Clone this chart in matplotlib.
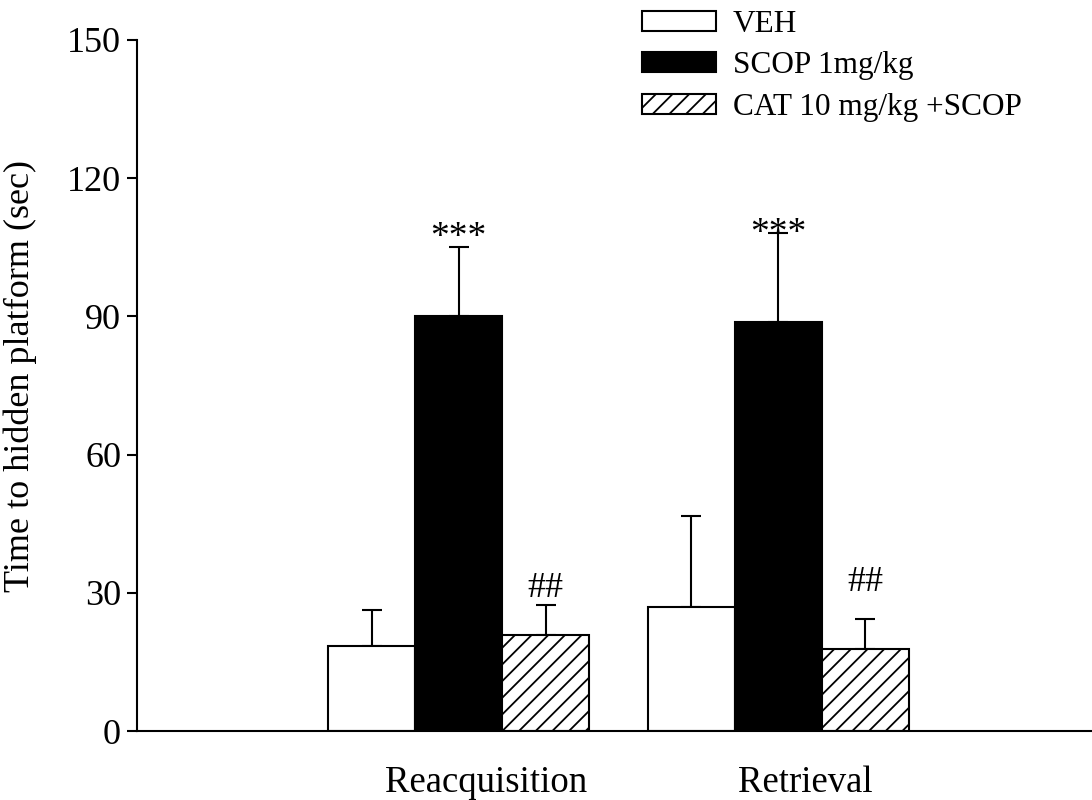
import numpy as np
import matplotlib
matplotlib.use("Agg")
import matplotlib.pyplot as plt
from matplotlib.transforms import ScaledTranslation

plt.rcParams['font.family'] = ['Liberation Serif', 'DejaVu Serif']
plt.rcParams['hatch.linewidth'] = 1.3

groups = ["Reacquisition", "Retrieval"]
series = ["VEH", "SCOP 1mg/kg", "CAT 10 mg/kg +SCOP"]
means = [[18.4, 27.0],
         [90.0, 88.9],
         [20.9, 17.9]]
errs = [[7.9, 19.6],
        [15.1, 19.2],
        [6.5, 6.5]]
marks = [["", ""], ["***", "***"], ["##", "##"]]
mark_y = [[0, 0], [105.0, 105.9], [29.1, 30.4]]

fig = plt.figure(figsize=(10.92, 8), dpi=100)
ax = fig.add_axes([0.1255, 0.086, 0.8745, 0.864])

x = np.array([1, 2])
w = 0.272
faces = ["white", "black", "white"]
hatches = [None, None, "//"]
for i in range(3):
    xs = x + (i - 1) * w
    ax.bar(xs, means[i], w, color=faces[i], edgecolor="black", linewidth=1.5,
           hatch=hatches[i], label=series[i], zorder=2)
    ax.errorbar(xs, means[i], yerr=[np.zeros(2), errs[i]], fmt="none",
                ecolor="black", elinewidth=1.5, capsize=7.5, capthick=1.5, zorder=1)
    for j in range(2):
        if marks[i][j]:
            ax.text(xs[j], mark_y[i][j], marks[i][j], ha="center", va="baseline",
                    fontsize=27 if marks[i][j] == "***" else 26)

ax.set_xlim(-0.005, 2.98)
ax.set_ylim(0, 150)
ax.set_yticks([0, 30, 60, 90, 120, 150])
ax.set_xticks(x)
ax.set_xticklabels(groups)
ax.tick_params(axis="y", direction="out", length=7.5, width=1.5, labelsize=26, pad=4)
ax.tick_params(axis="x", length=0, labelsize=26.5, pad=25)
# the group labels sit a little right of the bar groups in the original
for lbl in ax.get_xticklabels():
    lbl.set_transform(lbl.get_transform() + ScaledTranslation(0.27, 0, fig.dpi_scale_trans))
ax.set_ylabel("Time to hidden platform (sec)", fontsize=26)
ax.yaxis.set_label_coords(-0.105, 0.514)
for s in ["top", "right"]:
    ax.spines[s].set_visible(False)
for s in ["left", "bottom"]:
    ax.spines[s].set_linewidth(1.5)

fig.legend(loc="upper left", bbox_to_anchor=(0.588, 0.988), frameon=False,
           fontsize=22.5, handlelength=2.35, handleheight=0.6, labelspacing=0.4,
           handletextpad=0.55, borderaxespad=0, borderpad=0)

fig.savefig("out.png", dpi=100)
